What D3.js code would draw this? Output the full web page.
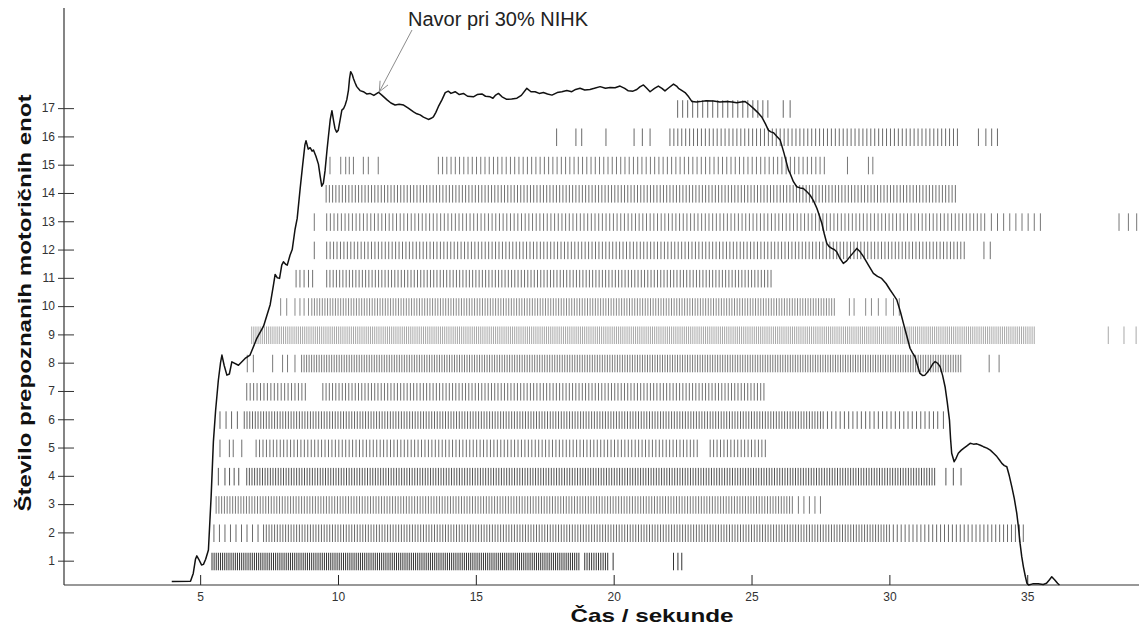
<!DOCTYPE html>
<html>
<head>
<meta charset="utf-8">
<script src="https://cdn.jsdelivr.net/npm/d3@7"></script>
<style>
  body { margin: 0; background: #fff; }
  svg { display: block; }
  text { font-family: "Liberation Sans", Arial, sans-serif; }
</style>
</head>
<body>
<svg id="chart" width="1139" height="627"></svg>
<script>
// ---------- data ----------
const xTicks = [5, 10, 15, 20, 25, 30, 35];
const yTicks = [1, 2, 3, 4, 5, 6, 7, 8, 9, 10, 11, 12, 13, 14, 15, 16, 17];

// Torque trace (time in s, level in motor-unit axis units)
const torqueTime = [3.97, 4.65, 4.75, 4.83, 4.88, 4.95, 5.05, 5.12, 5.20, 5.30, 5.40, 5.48, 5.56, 5.66, 5.74, 5.79, 5.87, 5.97, 6.06, 6.15, 6.39, 6.63, 6.81, 7.06, 7.30, 7.54, 7.66, 7.72, 7.80, 7.88, 7.96, 8.02, 8.10, 8.16, 8.26, 8.34, 8.44, 8.52, 8.63, 8.72, 8.80, 8.84, 8.92, 8.99, 9.06, 9.11, 9.20, 9.29, 9.36, 9.41, 9.47, 9.53, 9.60, 9.65, 9.72, 9.78, 9.84, 9.89, 9.95, 10.01, 10.08, 10.14, 10.20, 10.26, 10.32, 10.38, 10.42, 10.46, 10.52, 10.56, 10.62, 10.68, 10.80, 10.92, 11.04, 11.16, 11.30, 11.47, 11.60, 11.78, 11.92, 12.07, 12.22, 12.38, 12.55, 12.74, 12.86, 12.98, 13.10, 13.28, 13.38, 13.46, 13.55, 13.64, 13.77, 13.89, 14.00, 14.10, 14.25, 14.40, 14.55, 14.70, 14.91, 15.05, 15.22, 15.35, 15.52, 15.62, 15.72, 15.82, 15.95, 16.12, 16.30, 16.49, 16.65, 16.85, 17.00, 17.15, 17.30, 17.45, 17.60, 17.76, 17.95, 18.12, 18.30, 18.48, 18.62, 18.78, 18.95, 19.14, 19.30, 19.51, 19.70, 19.87, 20.05, 20.23, 20.40, 20.53, 20.70, 20.84, 20.95, 21.08, 21.20, 21.32, 21.48, 21.62, 21.75, 21.86, 22.00, 22.17, 22.28, 22.35, 22.48, 22.59, 22.72, 22.84, 23.00, 23.13, 23.35, 23.62, 23.85, 24.10, 24.30, 24.46, 24.62, 24.77, 24.92, 25.07, 25.22, 25.37, 25.50, 25.61, 25.70, 25.80, 25.92, 26.04, 26.18, 26.34, 26.40, 26.52, 26.64, 26.76, 26.88, 27.00, 27.12, 27.25, 27.37, 27.46, 27.55, 27.64, 27.73, 27.82, 27.91, 28.00, 28.09, 28.20, 28.33, 28.45, 28.57, 28.70, 28.82, 28.94, 29.06, 29.24, 29.42, 29.57, 29.72, 29.88, 30.03, 30.15, 30.27, 30.40, 30.51, 30.63, 30.75, 30.84, 30.93, 31.02, 31.11, 31.20, 31.29, 31.38, 31.48, 31.57, 31.66, 31.75, 31.84, 31.93, 32.02, 32.10, 32.18, 32.22, 32.26, 32.35, 32.42, 32.50, 32.60, 32.69, 32.80, 32.93, 33.05, 33.17, 33.30, 33.41, 33.54, 33.66, 33.78, 33.90, 34.00, 34.08, 34.17, 34.26, 34.35, 34.44, 34.53, 34.62, 34.68, 34.74, 34.80, 34.86, 34.93, 34.99, 35.05, 35.20, 35.40, 35.58, 35.70, 35.80, 35.89, 36.00, 36.10, 36.17];
const torqueLevel = [0.26, 0.27, 0.55, 1.05, 1.17, 1.05, 0.85, 0.87, 1.05, 1.38, 3.30, 5.20, 6.30, 7.38, 8.00, 8.27, 7.91, 7.56, 7.60, 8.03, 7.91, 8.15, 8.27, 8.87, 9.29, 10.05, 10.75, 11.12, 11.00, 10.98, 11.45, 11.57, 11.48, 11.45, 11.80, 12.00, 12.70, 13.10, 14.18, 15.00, 15.70, 15.85, 15.55, 15.60, 15.48, 15.52, 15.30, 15.02, 14.55, 14.24, 14.35, 14.78, 15.50, 15.97, 16.60, 16.91, 16.55, 16.28, 16.15, 16.22, 16.60, 16.93, 16.98, 17.11, 17.30, 17.64, 18.05, 18.29, 18.18, 18.05, 17.90, 17.76, 17.62, 17.58, 17.50, 17.52, 17.45, 17.56, 17.45, 17.29, 17.18, 17.11, 17.14, 17.11, 17.00, 16.87, 16.80, 16.76, 16.68, 16.60, 16.64, 16.69, 16.85, 17.05, 17.29, 17.55, 17.60, 17.52, 17.58, 17.48, 17.52, 17.42, 17.40, 17.48, 17.50, 17.42, 17.40, 17.35, 17.46, 17.52, 17.40, 17.31, 17.32, 17.35, 17.45, 17.70, 17.58, 17.58, 17.52, 17.55, 17.50, 17.46, 17.55, 17.58, 17.62, 17.58, 17.66, 17.70, 17.64, 17.66, 17.70, 17.76, 17.70, 17.73, 17.72, 17.78, 17.70, 17.61, 17.60, 17.66, 17.75, 17.82, 17.70, 17.58, 17.70, 17.78, 17.70, 17.61, 17.72, 17.85, 17.78, 17.70, 17.62, 17.55, 17.40, 17.23, 17.22, 17.23, 17.26, 17.25, 17.22, 17.23, 17.22, 17.19, 17.22, 17.23, 17.12, 16.99, 16.85, 16.69, 16.45, 16.22, 16.16, 16.13, 16.00, 15.87, 15.40, 14.81, 14.69, 14.40, 14.22, 14.18, 14.16, 14.05, 13.93, 13.72, 13.46, 13.20, 12.93, 12.55, 12.22, 12.10, 12.04, 12.00, 11.92, 11.70, 11.51, 11.60, 11.75, 11.90, 12.04, 11.92, 11.75, 11.45, 11.16, 11.05, 10.98, 10.80, 10.57, 10.40, 10.22, 9.80, 9.39, 8.95, 8.51, 8.35, 8.21, 7.90, 7.62, 7.55, 7.56, 7.66, 7.80, 7.95, 8.04, 7.98, 7.86, 7.55, 7.15, 6.60, 5.97, 5.30, 4.80, 4.50, 4.62, 4.80, 4.90, 4.97, 5.05, 5.15, 5.12, 5.13, 5.08, 5.03, 4.98, 4.91, 4.80, 4.68, 4.55, 4.44, 4.36, 4.32, 4.00, 3.62, 3.20, 2.68, 2.20, 1.62, 1.15, 0.79, 0.45, 0.20, 0.14, 0.18, 0.18, 0.16, 0.20, 0.32, 0.43, 0.32, 0.20, 0.14];

// Motor-unit discharges: [start s, end s, discharge rate Hz] for steady firing,
// plain numbers for isolated discharges (s).
const mu01 = [[5.43, 18.75, 13], [18.95, 19.85, 12], 19.98, 22.17, 22.33, 22.47];
const mu02 = [[5.50, 7.30, 5], [7.40, 29.90, 10], [30.00, 34.86, 7]];
const mu03 = [[5.58, 26.50, 10], [26.70, 27.52, 5]];
const mu04 = [5.66, [5.90, 6.50, 6], [6.69, 31.72, 10.5], 32.05, 32.32, 32.60];
const mu05 = [5.72, 6.06, 6.20, 6.51, [7.03, 23.10, 8], [23.50, 25.58, 8]];
const mu06 = [5.72, 5.94, 6.14, 6.35, [6.60, 27.50, 10], [27.60, 31.80, 6.5], 31.96];
const mu07 = [[6.69, 8.90, 8], [9.45, 25.52, 8.5]];
const mu08 = [6.71, 6.93, 7.63, 7.99, 8.17, 8.44, [8.68, 32.66, 11], 33.62, 33.98];
const mu09 = [[6.87, 35.32, 13], 37.94, 38.51, 38.95];
const mu10 = [7.92, 8.14, 8.44, 8.62, 8.77, 8.93, [9.05, 28.03, 10.5], 28.55, 28.72, 29.14, 29.35, 29.60, 29.88, 30.15, 30.36];
const mu11 = [8.48, 8.62, 8.77, 8.93, 9.08, [9.59, 25.72, 8.5]];
const mu12 = [9.14, [9.59, 32.78, 8], 33.43, 33.66];
const mu13 = [9.14, [9.59, 33.50, 7.5], [33.70, 35.58, 4.5], 38.33, 38.67, 38.97];
const mu14 = [[9.57, 32.44, 8.5]];
const mu15 = [9.71, 10.10, 10.28, 10.41, 10.56, 10.92, 11.10, 11.46, [13.64, 27.78, 6.5], 28.48, 29.24, 29.40];
const mu16 = [17.93, 18.63, 18.84, 19.72, 20.74, 21.04, 21.32, [22.04, 32.56, 7], 33.23, 33.50, 33.71, 33.92];
const mu17 = [[22.32, 25.61, 5.5], 26.15, 26.40];
const motorUnits = [mu01, mu02, mu03, mu04, mu05, mu06, mu07, mu08, mu09, mu10, mu11, mu12, mu13, mu14, mu15, mu16, mu17];

const annotationText = "Navor pri 30% NIHK";
const annotationPoint = [11.50, 17.58];

// ---------- styling ----------
const rowInk = ["#333", "#6a6a6a", "#7a7a7a", "#555", "#6f6f6f", "#666", "#707070", "#7a7a7a",
                "#a8a8a8", "#8a8a8a", "#707070", "#707070", "#777", "#707070", "#777", "#6a6a6a", "#666"];

// ---------- layout ----------
const svg = d3.select("#chart");
const axisX0 = 64, axisY0 = 585, axisTop = 8, axisRight = 1139;
const x = d3.scaleLinear().domain([0, 39]).range([62.3, 1137.5]);
const y = d3.scaleLinear().domain([0.14, 20.54]).range([585, 8]);

svg.append("rect").attr("width", 1139).attr("height", 627).attr("fill", "#fff");

// expand each unit's firing description into discharge times
function dischargeTimes(unit) {
  const out = [];
  unit.forEach(e => {
    if (Array.isArray(e)) {
      const [t0, t1, hz] = e;
      const isi = 1 / hz;
      for (let t = t0; t <= t1 + 1e-9; t += isi) out.push(t);
    } else out.push(e);
  });
  return out;
}

// spike raster
const raster = svg.append("g").attr("class", "raster");
motorUnits.forEach((unit, i) => {
  const level = i + 1;
  raster.append("g")
    .attr("stroke", rowInk[i])
    .attr("stroke-width", 1)
    .selectAll("line")
    .data(dischargeTimes(unit))
    .join("line")
    .attr("x1", d => x(d)).attr("x2", d => x(d))
    .attr("y1", y(level + 0.28)).attr("y2", y(level - 0.34));
});

// axes
const yAxis = d3.axisLeft(y).tickValues(yTicks).tickSize(6).tickSizeOuter(0).tickPadding(3);
const gy = svg.append("g").attr("transform", `translate(${axisX0},0)`).call(yAxis);
gy.select(".domain").remove();
gy.selectAll(".tick line").attr("x1", 10).attr("stroke", "#333");
gy.selectAll(".tick text").attr("font-size", 12).attr("fill", "#333")
  .attr("font-family", "'Liberation Sans', Arial, sans-serif");

const xAxis = d3.axisBottom(x).tickValues(xTicks).tickSize(-10).tickSizeOuter(0).tickPadding(7);
const gx = svg.append("g").attr("transform", `translate(0,${axisY0})`).call(xAxis);
gx.select(".domain").remove();
gx.selectAll(".tick line").attr("stroke", "#222");
gx.selectAll(".tick text").attr("font-size", 12).attr("fill", "#333")
  .attr("font-family", "'Liberation Sans', Arial, sans-serif");

svg.append("line").attr("x1", axisX0).attr("x2", axisX0).attr("y1", axisTop).attr("y2", axisY0)
  .attr("stroke", "#333").attr("stroke-width", 1.2);
svg.append("line").attr("x1", axisX0).attr("x2", axisRight).attr("y1", axisY0).attr("y2", axisY0)
  .attr("stroke", "#333").attr("stroke-width", 1.2);

// torque trace
const torque = torqueTime.map((t, i) => [t, torqueLevel[i]]);
svg.append("path")
  .datum(torque)
  .attr("fill", "none")
  .attr("stroke", "#111")
  .attr("stroke-width", 1.5)
  .attr("stroke-linejoin", "round")
  .attr("d", d3.line().x(d => x(d[0])).y(d => y(d[1])));

// annotation with arrow
const tip = [x(annotationPoint[0]), y(annotationPoint[1])];
const tail = [412, 30];
const ang = Math.atan2(tail[1] - tip[1], tail[0] - tip[0]);
const headLen = 11, headAng = 0.42;
const ann = svg.append("g").attr("stroke", "#8c8c8c").attr("stroke-width", 1).attr("fill", "none");
ann.append("line").attr("x1", tail[0]).attr("y1", tail[1]).attr("x2", tip[0]).attr("y2", tip[1]);
ann.append("path").attr("d",
  `M${tip[0] + headLen * Math.cos(ang + headAng)},${tip[1] + headLen * Math.sin(ang + headAng)}` +
  `L${tip[0]},${tip[1]}` +
  `L${tip[0] + headLen * Math.cos(ang - headAng)},${tip[1] + headLen * Math.sin(ang - headAng)}`);
svg.append("text").attr("x", 408).attr("y", 26).attr("font-size", 20).attr("fill", "#222")
  .text(annotationText);

// axis titles
const titleFont = "'DejaVu Sans', Verdana, sans-serif";
svg.append("text").attr("x", 652).attr("y", 622).attr("text-anchor", "middle")
  .attr("font-family", titleFont)
  .attr("font-size", 19).attr("font-weight", "bold").attr("fill", "#111")
  .attr("textLength", 163).attr("lengthAdjust", "spacingAndGlyphs")
  .text("Čas / sekunde");
svg.append("text").attr("transform", "translate(31,303) rotate(-90)").attr("text-anchor", "middle")
  .attr("font-family", titleFont)
  .attr("font-size", 19).attr("font-weight", "bold").attr("fill", "#111")
  .attr("textLength", 417).attr("lengthAdjust", "spacingAndGlyphs")
  .text("Število prepoznanih motoričnih enot");
</script>
</body>
</html>
